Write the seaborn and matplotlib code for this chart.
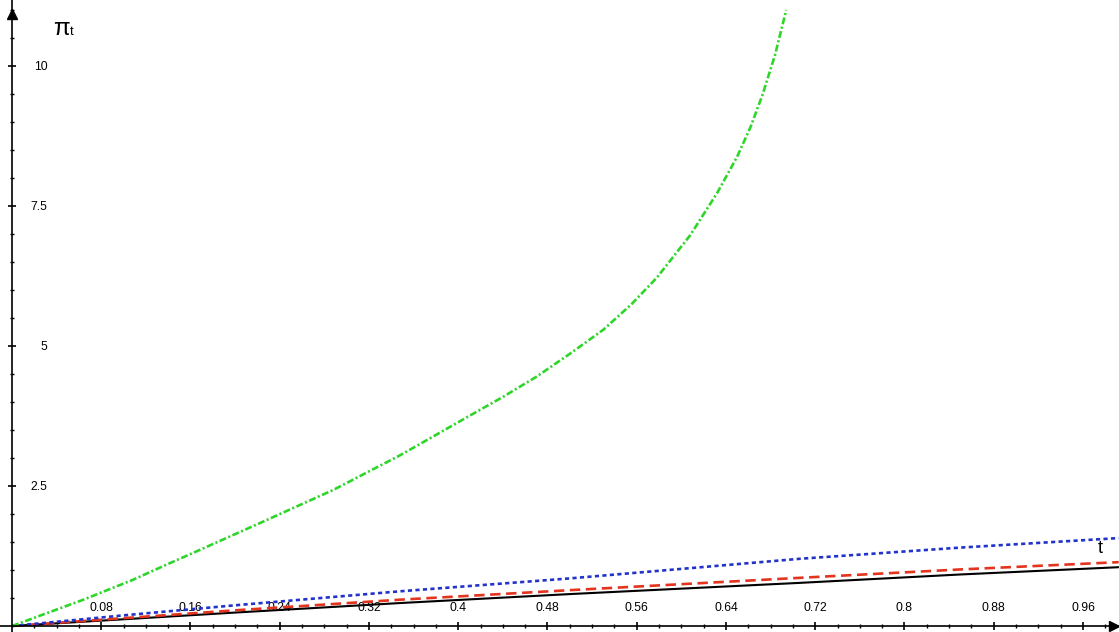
import matplotlib
matplotlib.use("Agg")
import matplotlib.pyplot as plt
import seaborn as sns
import numpy as np

# ---- data ----
t_green = [0, 0.064, 0.109, 0.139, 0.1685, 0.228, 0.288, 0.348, 0.408, 0.440,
           0.470, 0.500, 0.530, 0.555, 0.578, 0.608, 0.632, 0.650, 0.662,
           0.673, 0.684, 0.694]
v_green = [0, 0.47, 0.83, 1.10, 1.36, 1.89, 2.43, 3.05, 3.73, 4.09,
           4.45, 4.86, 5.29, 5.74, 6.22, 6.98, 7.73, 8.38, 8.91,
           9.50, 10.20, 11.0]

t_lin = [0, 0.1, 0.2, 0.348, 0.5, 0.706, 0.85, 0.992]
v_black = [0, 0.12, 0.24, 0.41, 0.57, 0.77, 0.92, 1.05]
v_red = [0, 0.14, 0.28, 0.47, 0.64, 0.86, 1.01, 1.14]
v_blue = [0, 0.19, 0.37, 0.62, 0.85, 1.20, 1.40, 1.57]

x_major = [0.08, 0.16, 0.24, 0.32, 0.40, 0.48, 0.56, 0.64, 0.72, 0.80, 0.88, 0.96]
x_labels = ["0.08", "0.16", "0.24", "0.32", "0.4", "0.48", "0.56", "0.64",
            "0.72", "0.8", "0.88", "0.96"]
y_major = [2.5, 5, 7.5, 10]
y_labels = ["2.5", "5", "7.5", "10"]

sns.set_theme(style="white")
plt.rcParams["font.family"] = ["Liberation Sans", "DejaVu Sans"]
plt.rcParams["lines.scale_dashes"] = False

fig = plt.figure(figsize=(11.19, 6.32), dpi=100)
ax = fig.add_axes([0, 0, 1, 1])
ax.set_facecolor("white")

sns.lineplot(x=t_lin, y=v_black, color="black", linewidth=1.5, ax=ax)
sns.lineplot(x=t_lin, y=v_red, color="#e2341f", linewidth=1.9, ax=ax)
ax.lines[-1].set_dashes((7.5, 4.0))
sns.lineplot(x=t_lin, y=v_blue, color="#2233cc", linewidth=1.9, ax=ax)
ax.lines[-1].set_dashes((3.0, 2.4))
sns.lineplot(x=t_green, y=v_green, color="#2fd62a", linewidth=1.9, ax=ax)
ax.lines[-1].set_dashes((5.0, 1.8, 1.5, 1.8))

ax.set_xlim(-12 / 1115.6, 1107 / 1115.6)
ax.set_ylim(-6 / 56.0, 626 / 56.0)

for s in ["top", "right"]:
    ax.spines[s].set_visible(False)
for s in ["left", "bottom"]:
    ax.spines[s].set_position(("data", 0))
    ax.spines[s].set_linewidth(1.2)
    ax.spines[s].set_color("black")

ax.set_xticks(x_major, labels=x_labels)
ax.set_xticks(np.round(np.arange(0.02, 0.99, 0.02), 2), minor=True)
ax.set_yticks(y_major, labels=y_labels)
ax.set_yticks(np.arange(0.5, 11.01, 0.5), minor=True)

ax.tick_params(axis="both", which="both", bottom=True, left=True,
               top=False, right=False)
ax.tick_params(axis="both", which="major", direction="inout", length=6,
               width=1.2, color="black", labelsize=8.8, labelcolor="black")
ax.tick_params(axis="both", which="minor", direction="inout", length=3.5,
               width=1.0, color="black")
ax.tick_params(axis="x", which="major", pad=-20.5)
ax.tick_params(axis="y", which="major", pad=-28.5)

# axis arrows
ax.plot([0], [10.92], marker="^", ms=7, color="black", clip_on=False)
ax.plot([0.988], [0], marker=">", ms=7, color="black", clip_on=False)

# axis names
ax.text(0.037, 10.55, "π", fontsize=17.5, color="black", ha="left", va="baseline")
ax.text(0.0515, 10.55, "t", fontsize=9.5, color="black", ha="left", va="baseline")
ax.text(0.973, 1.30, "t", fontsize=13, color="black", ha="left", va="baseline")

ax.set_xlabel("")
ax.set_ylabel("")
fig.savefig("out.png", dpi=100)
